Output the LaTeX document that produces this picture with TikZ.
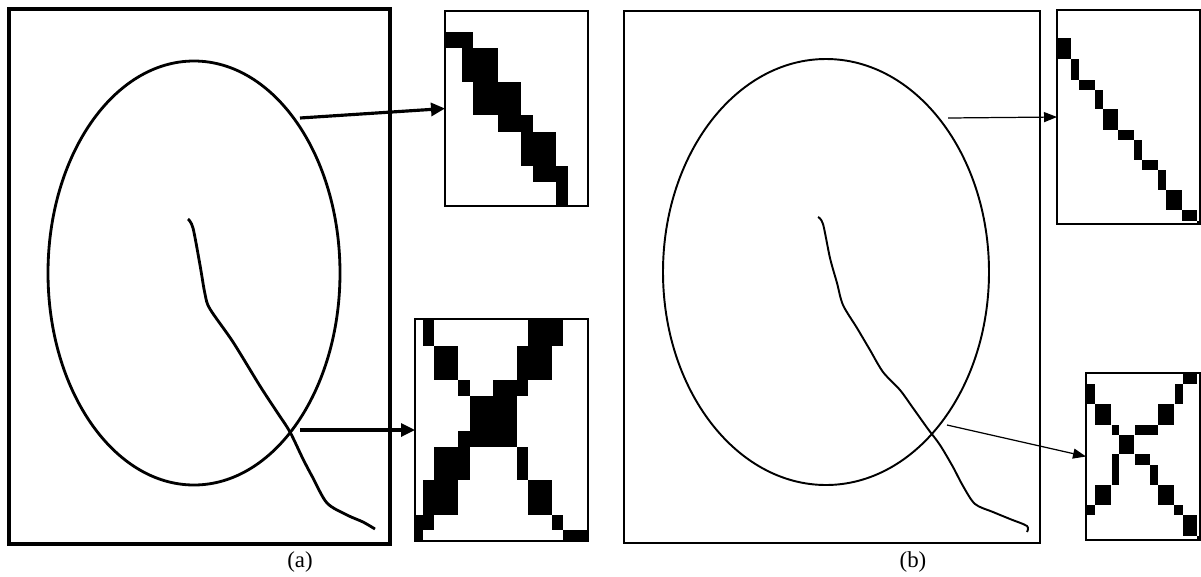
\documentclass[tikz,border=0pt]{standalone}
\usepackage{fontspec}
\setmainfont{Liberation Serif}
\usetikzlibrary{arrows.meta, positioning}
\tikzset{
  panel/.style={rectangle, draw=black, inner sep=0pt, outer sep=0pt},
  inset/.style={rectangle, draw=black, line width=1.1pt, inner sep=0pt, outer sep=0pt},
  qthick/.style={draw=black, line width=1.6pt},
  qthin/.style={draw=black, line width=1.1pt},
  thickarrow/.style={-{Triangle[length=0.28cm, width=0.26cm]}, line width=1.8pt},
  thinarrow/.style={-{Triangle[length=0.26cm, width=0.2cm]}, line width=0.7pt},
  caption/.style={font=\fontsize{13}{15}\selectfont}
}

\begin{document}
\begin{tikzpicture}[x=0.02cm, y=-0.02cm]
  \useasboundingbox (0,0) rectangle (1201,576);

  % (a) thick stroke
  \node[panel, line width=2.3pt, minimum width=7.62cm, minimum height=10.7cm] (frameA) at (199.5,276.5) {};
  \draw[qthick] (194,273) ellipse [x radius=146, y radius=212];
  \draw[qthick] plot[smooth, tension=0.5] coordinates {(188,219) (193,228) (200,265) (205,294) (210,309)
    (233,342) (260,386) (277,412) (290,432) (303,459) (313,478) (327,503) (347,515) (363,522) (375,529)};
  \coordinate (edgeA) at (300,118);
  \coordinate (crossA) at (300,430);

  % (a) enlarged pixels
  \foreach \xa/\ya/\xb/\yb in {445/32/473/48, 462/48/498/82, 473/82/521/115, 498/115/533/132,
      521/132/556/166, 533/166/568/182, 556/182/568/206}
    \fill (\xa,\ya) rectangle (\xb,\yb);
  \foreach \xa/\ya/\xb/\yb in {423/319/434/346, 434/346/458/380, 458/380/470/396,
      528/319/563/346, 517/346/552/380, 493/380/528/396, 470/396/517/447,
      458/431/470/447, 434/447/470/480, 423/480/458/515, 415/515/434/530, 415/530/423/541,
      517/447/528/480, 528/480/552/515, 552/515/563/530, 563/530/588/541}
    \fill (\xa,\ya) rectangle (\xb,\yb);
  \node[inset, minimum width=2.86cm, minimum height=3.9cm] (zoomA1) at (516.5,108.5) {};
  \node[inset, minimum width=3.46cm, minimum height=4.44cm] (zoomA2) at (501.5,430) {};

  \draw[thickarrow] (edgeA) -- (zoomA1.west);
  \draw[thickarrow] (crossA) -- (zoomA2.west);
  \node[caption] (labA) at (300,562) {(a)};

  % (b) thin stroke
  \node[panel, line width=0.9pt, minimum width=8.32cm, minimum height=10.64cm] (frameB) at (832,277) {};
  \draw[qthin] (826,272) ellipse [x radius=163, y radius=213];
  \draw[qthin] plot[smooth, tension=0.5] coordinates {(818,217) (823,224) (830,258) (837,283) (843,305)
    (857,328) (870,350) (883,372) (900,390) (913,408) (928,429) (940,445) (953,467) (963,486)
    (975,504) (993,512) (1010,519) (1027,526) (1027,532)};
  \coordinate (edgeB) at (948,118);
  \coordinate (crossB) at (947,425);

  % (b) enlarged pixels
  \foreach \xa/\ya/\xb/\yb in {1057/38/1071/59, 1071/59/1079/80, 1079/80/1095/90, 1095/90/1103/109,
      1103/109/1118/130, 1118/130/1134/140, 1134/140/1142/160, 1142/160/1158/170,
      1158/170/1166/190, 1166/190/1182/210, 1182/210/1197/221, 1197/221/1200/224}
    \fill (\xa,\ya) rectangle (\xb,\yb);
  \foreach \xa/\ya/\xb/\yb in {1183/373/1197/384, 1175/384/1183/404, 1158/404/1174/425,
      1135/425/1158/435, 1119/435/1134/454, 1112/425/1119/435, 1095/404/1111/425,
      1086/384/1095/404, 1112/454/1119/485, 1135/454/1150/465, 1150/465/1158/485,
      1095/485/1111/505, 1086/505/1095/515, 1158/485/1174/505, 1174/505/1183/515,
      1183/515/1197/536, 1197/536/1200/540}
    \fill (\xa,\ya) rectangle (\xb,\yb);
  \node[inset, minimum width=2.86cm, minimum height=4.28cm] (zoomB1) at (1128.5,117) {};
  \node[inset, minimum width=2.28cm, minimum height=3.34cm] (zoomB2) at (1143,456.5) {};

  \draw[thinarrow] (edgeB) -- (zoomB1.west);
  \draw[thinarrow] (crossB) -- (zoomB2.west);
  \node[caption] (labB) at (913,562) {(b)};
\end{tikzpicture}
\end{document}
